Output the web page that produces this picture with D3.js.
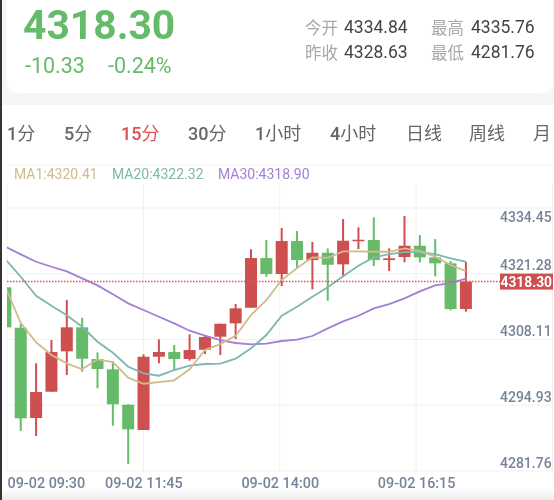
<!DOCTYPE html>
<html><head><meta charset="utf-8">
<script src="https://cdn.jsdelivr.net/npm/d3@7"></script>
<style>html,body{margin:0;padding:0;background:#fff}svg{display:block;filter:blur(0.35px)}
text{font-family:Roboto,"Noto Sans CJK SC",sans-serif}</style></head>
<body><svg id="c" width="554" height="500"></svg>
<script>
const openP=[4317.15,4309.06,4290.97,4296.24,4304.33,4309.14,4302.79,4300.73,4293.64,4288.57,4303.25,4304.19,4302.79,4304.65,4307.26,4309.94,4313.07,4323.02,4319.82,4326.43,4322.62,4324.08,4321.76,4326.43,4326.63,4322.62,4323.22,4325.49,4323.16,4321.96,4312.81];
const closeP=[4309.14,4290.91,4296.18,4304.19,4309.14,4302.85,4300.79,4293.72,4288.71,4303.25,4304.19,4302.79,4304.59,4307.20,4309.86,4312.95,4323.02,4319.82,4326.43,4322.62,4324.08,4321.68,4326.49,4326.69,4322.62,4322.96,4325.49,4323.16,4321.96,4312.81,4318.30];
const highP=[4317.15,4309.80,4301.93,4306.60,4314.61,4311.06,4304.13,4302.39,4293.72,4303.73,4306.74,4305.60,4307.74,4307.60,4309.86,4313.81,4324.76,4326.63,4329.03,4328.43,4326.23,4324.96,4330.83,4329.17,4331.17,4324.96,4331.43,4327.63,4326.83,4322.42,4322.22];
const lowP=[4309.14,4288.37,4287.37,4296.24,4299.59,4300.25,4296.92,4289.43,4281.76,4288.57,4301.93,4300.59,4302.45,4303.79,4303.59,4306.80,4313.07,4319.28,4317.41,4320.96,4316.75,4314.47,4319.28,4324.82,4321.42,4320.42,4322.16,4322.16,4319.36,4312.55,4312.27];
const ma1=[4317.21,4310.00,4306.14,4303.59,4301.93,4300.73,4302.73,4302.19,4299.05,4297.84,4298.18,4298.53,4300.73,4304.59,4305.80,4307.46,4311.60,4314.61,4318.62,4321.02,4323.16,4323.08,4324.36,4324.36,4324.28,4324.28,4324.96,4324.42,4323.28,4321.62,4320.41];
const ma20=[4322.76,4319.28,4315.47,4313.47,4311.54,4309.26,4306.26,4304.05,4301.25,4299.93,4299.45,4300.59,4301.45,4301.79,4301.85,4302.85,4304.93,4307.60,4311.46,4313.27,4315.27,4317.15,4319.36,4321.48,4323.16,4323.82,4324.22,4324.22,4323.82,4322.96,4322.32];
const ma30=[4325.29,4323.76,4322.28,4321.28,4320.36,4318.96,4317.55,4315.75,4313.95,4312.61,4311.26,4309.94,4308.46,4307.46,4306.60,4306.00,4305.74,4305.86,4306.40,4306.66,4307.40,4308.94,4310.34,4311.46,4312.95,4313.81,4314.95,4316.35,4317.55,4318.01,4318.90];
const priceTicks=[4334.45,4321.28,4308.11,4294.93,4281.76];
const timeTicks=["09-02 09:30","09-02 11:45","09-02 14:00","09-02 16:15"];
const tabs=["1分","5分","15分","30分","1小时","4小时","日线","周线","月"];
const lastPrice=4318.30;

const RED="#cd4f4f",GREEN="#66bb6a",TAN="#cfbb8c",TEAL="#7db7ad",PURPLE="#a27fd6";
const svg=d3.select("#c");
const x=d3.scaleLinear().domain([0,30]).range([5.4,465.9]);
const y=d3.scaleLinear().domain([4281.76,4334.45]).range([464,201]);
const gx=d3.scaleLinear().domain([0,4]).range([7,552.5]);

// page frame
svg.append("rect").attr("width",554).attr("height",105).attr("fill","#f6f6f6");
svg.append("rect").attr("x",7).attr("y",-20).attr("width",546).attr("height",113).attr("rx",10).attr("fill","#fff");
const fade=svg.append("defs").append("linearGradient").attr("id","fade").attr("x1",0).attr("x2",0).attr("y1",0).attr("y2",1);
fade.append("stop").attr("offset",0).attr("stop-color","#fff");
fade.append("stop").attr("offset",1).attr("stop-color","#ececec");
svg.append("rect").attr("y",488).attr("width",554).attr("height",12).attr("fill","url(#fade)");
svg.select("defs").append("clipPath").attr("id","plot").append("rect").attr("x",7).attr("y",160).attr("width",547).attr("height",320);

// header
function t(txt,xp,yp,size,color,weight){return svg.append("text").text(txt).attr("x",xp).attr("y",yp).attr("font-size",size).attr("fill",color).attr("font-weight",weight||400);}
t("4318.30",23,39,40.8,GREEN,700);
t("-10.33",25,73,21.5,GREEN);
t("-0.24%",108,73,21.5,GREEN);
t("今开",305,34,16.5,"#a8a8a8");t("4334.84",344,33,17.5,"#444");
t("最高",431,34,16.5,"#a8a8a8");t("4335.76",471,33,17.5,"#444");
t("昨收",305,59,16.5,"#a8a8a8");t("4328.63",344,58,17.5,"#444");
t("最低",431,59,16.5,"#a8a8a8");t("4281.76",471,58,17.5,"#444");

// tabs: digits medium, CJK regular
const tabX=[7,64,121,188,255,330,406,469,533];
tabs.forEach((s,i)=>{
  const e=svg.append("text").attr("x",tabX[i]).attr("y",140).attr("font-size",18).attr("fill",i===2?"#e04f4f":"#666");
  (s.match(/\d+|\D+/g)).forEach(p=>e.append("tspan").text(p).attr("font-weight",/\d/.test(p)?500:400));
});

// grid
const grid=svg.append("g").attr("stroke","#f1f1f1").attr("stroke-width",1);
grid.selectAll(".v").data(gx.ticks(4)).join("line").attr("x1",d=>gx(d)).attr("x2",d=>gx(d)).attr("y1",184).attr("y2",472);
grid.selectAll(".h").data(priceTicks).join("line").attr("x1",7).attr("x2",552).attr("y1",d=>y(d)+7).attr("y2",d=>y(d)+7);
grid.append("line").attr("x1",7).attr("x2",552).attr("y1",165).attr("y2",165);

// legend
t("MA1:4320.41",14,179,14,TAN);
t("MA20:4322.32",112,179,14,TEAL);
t("MA30:4318.90",218,179,14,PURPLE);

// candles
const idx=d3.range(openP.length);
const col=i=>closeP[i]>=openP[i]?RED:GREEN;
const plot=svg.append("g").attr("clip-path","url(#plot)");
plot.selectAll(".w").data(idx).join("line").attr("x1",x).attr("x2",x)
 .attr("y1",i=>y(highP[i])).attr("y2",i=>y(lowP[i])).attr("stroke",col).attr("stroke-width",2);
plot.selectAll(".b").data(idx).join("rect").attr("x",i=>x(i)-6).attr("width",12)
 .attr("y",i=>y(Math.max(openP[i],closeP[i]))).attr("height",i=>Math.max(1.5,Math.abs(y(openP[i])-y(closeP[i])))).attr("fill",col);

// moving averages
const line=d3.line().x((d,i)=>x(i)).y(d=>y(d));
[[ma30,PURPLE],[ma20,TEAL],[ma1,TAN]].forEach(([s,c])=>plot.append("path").attr("d",line(s)).attr("fill","none").attr("stroke",c).attr("stroke-width",1.8));

// last-price line
svg.append("line").attr("x1",7).attr("x2",500).attr("y1",y(lastPrice)).attr("y2",y(lastPrice))
 .attr("stroke","#e25555").attr("stroke-width",1.5).attr("stroke-dasharray","1.5 1.5");

// axes
const ya=svg.append("g").attr("transform","translate(500,0)").call(d3.axisRight(y).tickValues(priceTicks).tickFormat(d3.format(".2f")).tickSize(0).tickPadding(0));
ya.select(".domain").remove();
ya.selectAll("text").attr("font-size",14).attr("font-weight",500).attr("fill","#76849a").style("font-family","Roboto")
 .attr("dy",(d,i)=>i===0?"20px":"3px");
const xa=svg.append("g").attr("transform","translate(0,472)").call(d3.axisBottom(gx).tickValues([0,1,2,3]).tickFormat(i=>timeTicks[i]).tickSize(0).tickPadding(0));
xa.select(".domain").remove();
xa.selectAll("text").attr("font-size",14.4).attr("font-weight",500).attr("fill","#76849a").style("font-family","Roboto").attr("dy","16px")
 .attr("text-anchor",(d,i)=>i===0?"start":"middle");

// last price tag
svg.append("rect").attr("x",500).attr("y",y(lastPrice)-8).attr("width",53).attr("height",16).attr("fill",RED);
t(d3.format(".2f")(lastPrice),500.5,y(lastPrice)+5.5,13.8,"#fff",700);

// left edge of the photographed screen
svg.append("rect").attr("x",0).attr("y",0).attr("width",2).attr("height",500).attr("fill","#333");
</script></body></html>
